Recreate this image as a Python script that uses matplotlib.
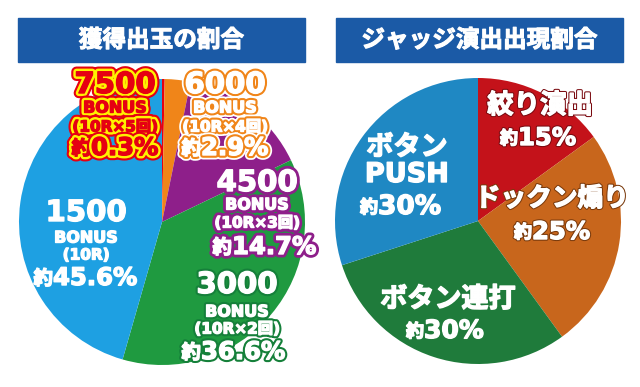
import matplotlib.pyplot as plt
import matplotlib.patheffects as pe
from matplotlib.patches import Rectangle

plt.rcParams['font.family'] = ['DejaVu Sans', 'Noto Sans CJK JP']

W, H = 640, 387

# 獲得出玉の割合
left_title = "獲得出玉の割合"
left_share = [0.3, 2.9, 14.7, 36.6, 45.6]
left_bonus = ["7500", "6000", "4500", "3000", "1500"]
left_round = ["(10R×5回)", "(10R×4回)", "(10R×3回)", "(10R×2回)", "(10R)"]
left_colors = ["#e60012", "#f08519", "#8e1f8a", "#1f9a40", "#1ea0e2"]

# ジャッジ演出出現割合
right_title = "ジャッジ演出出現割合"
right_share = [15, 25, 30, 30]
right_names = ["絞り演出", "ドックン煽り", "ボタン連打", "ボタン\nPUSH"]
right_colors = ["#c4121a", "#c8661c", "#1f7b3b", "#1f88c3"]

banner = "#1b5aa6"


def yk(y):
    # 画像座標 -> 軸座標
    return H - y


fig = plt.figure(figsize=(6.4, 3.87), dpi=100)
ax = fig.add_axes([0, 0, 1, 1])

ax.pie(left_share, colors=left_colors, startangle=90, counterclock=False,
       center=(162, yk(222)), radius=143, wedgeprops=dict(linewidth=0))
ax.pie(right_share, colors=right_colors, startangle=90, counterclock=False,
       center=(478, yk(221)), radius=143, wedgeprops=dict(linewidth=0))

ax.set_xlim(0, W)
ax.set_ylim(0, H)
ax.set_aspect('equal')
ax.axis('off')

# タイトル帯
for x0, x1, t in [(18, 305, left_title), (336, 623, right_title)]:
    ax.add_patch(Rectangle((x0, yk(62)), x1 - x0, 44, color=banner, zorder=3))
    ax.text((x0 + x1) / 2, yk(40), t, color='white', fontsize=17,
            fontweight='bold', family='Noto Sans CJK JP',
            ha='center', va='center', zorder=4,
            path_effects=[pe.Stroke(linewidth=0.8, foreground='white'), pe.Normal()])


def fx(fill, rings):
    effs = [pe.Stroke(linewidth=lw, foreground=c) for lw, c in rings]
    # 文字を少し太くする
    return effs + [pe.Stroke(linewidth=1.0, foreground=fill), pe.Normal()]


def label(x, y, txt, size, color, effects, **kw):
    ax.text(x, yk(y), txt, fontsize=size, color=color, fontweight='bold',
            ha=kw.get('ha', 'center'), va='center', zorder=5,
            path_effects=effects)


def yaku(xs, y, num, size, color, effects, ysize=13):
    label(xs, y + 1, "約", ysize, color, effects, ha='right')
    label(xs, y, num, size, color, effects, ha='left')


# 左の円グラフのラベル
yellow = "#fff100"
left_fill = [left_colors[0], 'white', 'white', 'white', 'white']
left_fx = [
    fx(left_fill[0], [(7.5, left_colors[0]), (4.5, yellow)]),
    fx('white', [(6.5, 'white'), (4, left_colors[1])]),
    fx('white', [(5, left_colors[2])]),
    fx('white', [(4, "#15803a")]),
    fx('white', []),
]
left_pos = [(115, 85, 91), (225, 85, 201), (257, 183, 232), (237, 285, 201), (86, 213, 53)]
left_gap = [(108, 127, 148), (108, 127, 148), (205, 223, 247), (312, 329, 352), (238, 255, 278)]

for i in range(5):
    x, y, xs = left_pos[i]
    yb, yr, yp = left_gap[i]
    label(x, y, left_bonus[i], 21, left_fill[i], left_fx[i])
    label(x, yb, "BONUS", 11.5, left_fill[i], left_fx[i])
    label(x, yr, left_round[i], 11, left_fill[i], left_fx[i])
    yaku(xs, yp, f"{left_share[i]}%", 17.5, left_fill[i], left_fx[i], ysize=14)

# 右の円グラフのラベル
r_fx = [
    fx('white', [(2.5, "#7a0a10")]),
    fx('white', [(2.5, "#7a3a0c")]),
    fx('white', []),
    fx('white', []),
]
label(540, 106, right_names[0], 19, 'white', r_fx[0])
yaku(518, 138, f"{right_share[0]}%", 17.5, 'white', r_fx[0])
label(552, 199, right_names[1], 18.5, 'white', r_fx[1])
yaku(532, 232, f"{right_share[1]}%", 17.5, 'white', r_fx[1])
label(448, 300, right_names[2], 19.5, 'white', r_fx[2])
yaku(424, 331, f"{right_share[2]}%", 18, 'white', r_fx[2])
label(407, 148, "ボタン", 19.5, 'white', r_fx[3])
label(407, 175, "PUSH", 19.5, 'white', r_fx[3])
yaku(378, 207, f"{right_share[3]}%", 19, 'white', r_fx[3])

fig.savefig("out.png", dpi=100)
